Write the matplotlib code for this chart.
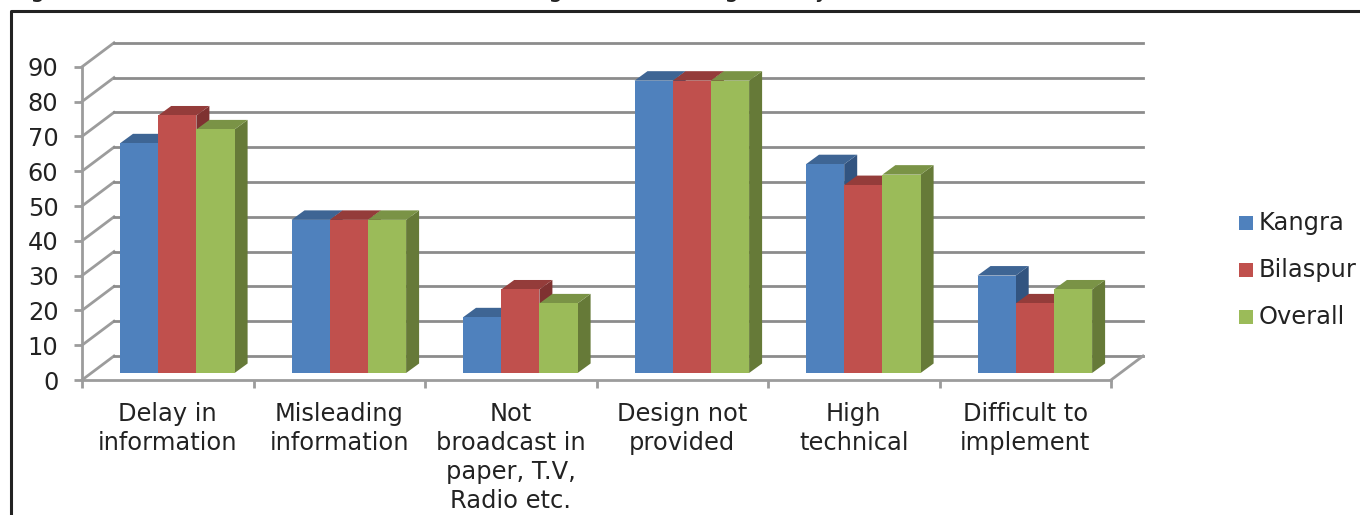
import numpy as np
import matplotlib
matplotlib.use("Agg")
import matplotlib.pyplot as plt
from matplotlib.patches import Polygon, Rectangle

# values per constraint
categories = [
    "Delay in\ninformation",
    "Misleading\ninformation",
    "Not\nbroadcast in\npaper, T.V,\nRadio etc.",
    "Design not\nprovided",
    "High\ntechnical",
    "Difficult to\nimplement",
]
kangra = [66, 44, 16, 84, 60, 28]
bilaspur = [74, 44, 24, 84, 54, 20]
overall = [70, 44, 20, 84, 57, 24]
series_names = ["Kangra", "Bilaspur", "Overall"]
y_ticks = list(range(0, 100, 10))

front_colors = ["#4F81BD", "#C0504D", "#9BBB59"]
top_colors = ["#3E6594", "#943C3A", "#7A9346"]
side_colors = ["#325480", "#7F3231", "#667A38"]
grid_color = "#8C8C8C"
wall_color = "#9C9C9C"
text_color = "#222222"
font_size = 17.4

W, H = 1360, 515
fig = plt.figure(figsize=(W / 100, H / 100), dpi=100)
plt.rcParams["font.family"] = "DejaVu Sans"

# the line of text above the frame is cut off, only its descenders remain
for gx, letter in zip([37, 555, 731, 821], "gggy"):
    fig.text(gx / W, 1 + 3 / H, letter, fontsize=font_size, color=text_color,
             ha="center", va="baseline")

# frame around the chart, only top and left show
fig.add_artist(plt.Line2D([11 / W, 11 / W, 1], [0, 1 - 11 / H, 1 - 11 / H],
                          color="#222222", lw=2.2))

# axes box is the front plane of the 3D look
x0, x1 = 82, 1111
y_zero, y_top = 380, 66.8
ax = fig.add_axes([x0 / W, 1 - y_zero / H, (x1 - x0) / W, (y_zero - y_top) / H])
ax.set_xlim(0, 6)
ax.set_ylim(0, 90)
ax.patch.set_visible(False)

px_x = 6 / (x1 - x0)
px_y = 90 / (y_zero - y_top)
wall_dx = 32 * px_x
wall_dy = 24 * px_y

# gridlines run up the side wall and along the back
for v in y_ticks:
    ax.plot([0, wall_dx], [v, v + wall_dy], color=wall_color, lw=2.0,
            clip_on=False, zorder=1)
    ax.plot([wall_dx, 6 + wall_dx], [v + wall_dy, v + wall_dy], color=grid_color, lw=2.0,
            clip_on=False, zorder=1)
# right edge of the floor
ax.plot([6, 6 + wall_dx], [0, wall_dy], color=wall_color, lw=2.0, clip_on=False, zorder=1)

for s in ["top", "right"]:
    ax.spines[s].set_visible(False)
for s in ["left", "bottom"]:
    ax.spines[s].set_color(wall_color)
    ax.spines[s].set_linewidth(2.0)
    ax.spines[s].set_zorder(1.5)

ax.set_yticks(y_ticks)
ax.set_xticks(np.arange(0, 7))
ax.set_xticklabels([])
ax.set_xticks(np.arange(6) + 0.5, minor=True)
ax.set_xticklabels(categories, minor=True, fontsize=font_size, color=text_color, linespacing=1.275)
ax.tick_params(axis="y", labelsize=font_size, labelcolor=text_color, length=6, width=2,
               color=wall_color, pad=11)
ax.tick_params(axis="x", which="major", length=6, width=2, color=wall_color)
ax.tick_params(axis="x", which="minor", length=0, pad=15.5)

# bars: front face through ax.bar, side and top faces offset from it
bar_w = 38.2 * px_x
bar_dx = 13 * px_x
bar_dy = 9.5 * px_y
base = 7 * px_y
gap_left = 38 * px_x
for i, vals in enumerate([kangra, bilaspur, overall]):
    lefts = np.arange(6) + gap_left + i * bar_w
    ax.bar(lefts, vals, bar_w, bottom=base, align="edge", color=front_colors[i],
           zorder=3 + i * 0.1, clip_on=False, label=series_names[i])
    for left, v in zip(lefts, vals):
        top = base + v
        right = left + bar_w
        ax.add_patch(Polygon([(left, top), (right, top), (right + bar_dx, top + bar_dy),
                              (left + bar_dx, top + bar_dy)],
                             closed=True, fc=top_colors[i], ec="none", zorder=2.9 + i * 0.1,
                             clip_on=False))
        ax.add_patch(Polygon([(right, base), (right + bar_dx, base + bar_dy),
                              (right + bar_dx, top + bar_dy), (right, top)],
                             closed=True, fc=side_colors[i], ec="none", zorder=2.8 + i * 0.1,
                             clip_on=False))

# legend squares and labels
legend_y = [223, 270, 317]
for name, color, ly in zip(series_names, front_colors, legend_y):
    fig.add_artist(Rectangle((1239 / W, 1 - (ly + 7) / H), 14 / W, 14 / H,
                             transform=fig.transFigure, fc=color, ec="none"))
    fig.text(1259 / W, 1 - ly / H, name, fontsize=font_size, color=text_color, va="center")

fig.savefig("out.png", dpi=100)
